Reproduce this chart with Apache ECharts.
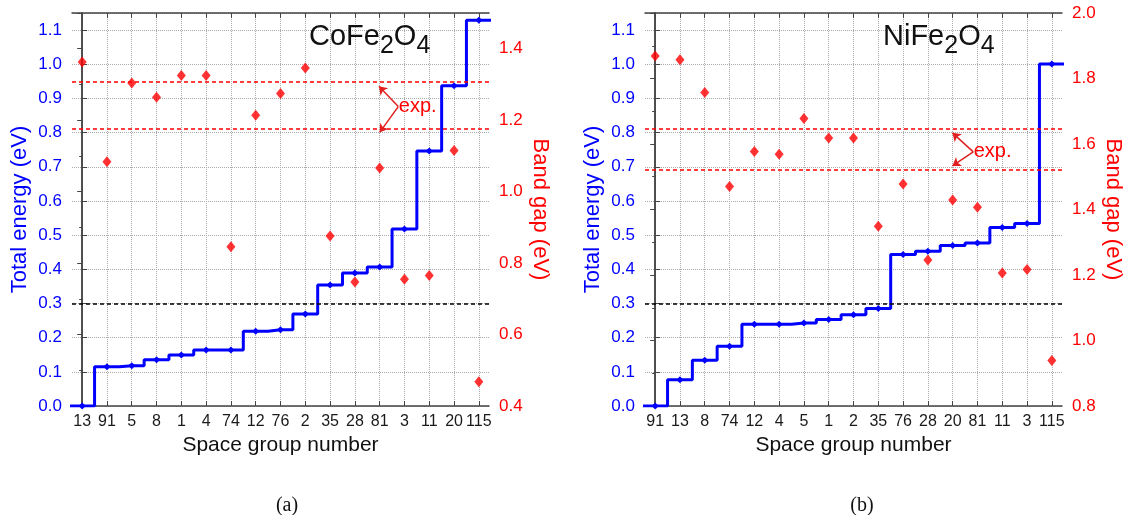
<!DOCTYPE html>
<html>
<head>
<meta charset="utf-8">
<script src="https://cdn.jsdelivr.net/npm/echarts@6/dist/echarts.min.js"></script>
<style>
  html, body { margin: 0; padding: 0; background: #fff; }
  #chart { width: 1129px; height: 515px; }
</style>
</head>
<body>
<div id="chart"></div>
<script>
// (a) CoFe2O4
const groupsCo = ['13', '91', '5', '8', '1', '4', '74', '12', '76', '2', '35', '28', '81', '3', '11', '20', '115'];
const energyCo = [0.0, 0.115, 0.118, 0.135, 0.149, 0.164, 0.164, 0.219, 0.223, 0.269, 0.354, 0.389, 0.407, 0.518, 0.746, 0.937, 1.129];
const gapCo = [1.363, 1.084, 1.304, 1.264, 1.325, 1.325, 0.846, 1.214, 1.275, 1.346, 0.876, 0.747, 1.066, 0.755, 0.765, 1.115, 0.468];
const expCo = [0.95, 0.805];

// (b) NiFe2O4
const groupsNi = ['91', '13', '8', '74', '12', '4', '5', '1', '2', '35', '76', '28', '20', '81', '11', '3', '115'];
const energyNi = [0.0, 0.077, 0.134, 0.175, 0.239, 0.239, 0.243, 0.253, 0.267, 0.285, 0.443, 0.453, 0.470, 0.477, 0.522, 0.534, 1.001];
const gapNi = [1.869, 1.857, 1.757, 1.470, 1.577, 1.569, 1.678, 1.618, 1.618, 1.349, 1.478, 1.246, 1.429, 1.407, 1.206, 1.217, 0.939];
const expNi = [0.805, 0.69];

const threshold = 0.3;

const blue = '#0000ff';
const red = '#ff0000';
const frame = '#444';
const font = '"Liberation Sans", Arial, sans-serif';

function panel(i, left, cats, energy, gap, exp, gapMin, gapMax, ann) {
    const idx = cats.map((c, j) => j);
    const last = energy.length - 1;
    const xCommon = {
        gridIndex: i, type: 'value', min: -0.41, max: cats.length - 1 + 0.41,
        axisLine: {show: true, onZero: false, lineStyle: {color: frame, width: 1.5}},
        axisTick: {show: true, inside: true, length: 5, customValues: idx, lineStyle: {color: frame}}
    };
    const xAxes = [
        Object.assign({}, xCommon, {
            position: 'bottom',
            axisLabel: {
                customValues: idx, formatter: v => cats[Math.round(v)],
                color: '#1a1a1a', fontSize: 16, fontFamily: font, margin: 8
            },
            splitLine: {show: true, lineStyle: {type: 'dotted', color: '#aaa'}},
            name: 'Space group number', nameLocation: 'middle', nameGap: 28,
            nameTextStyle: {fontSize: 21, color: '#111', fontFamily: font}
        }),
        Object.assign({}, xCommon, {
            position: 'top',
            axisLabel: {show: false},
            splitLine: {show: false}
        })
    ];
    const yAxes = [
        {
            gridIndex: i, type: 'value', position: 'left', min: 0, max: 1.15, interval: 0.1,
            axisLine: {show: true, lineStyle: {color: frame, width: 1.5}},
            axisTick: {show: true, inside: true, length: 5, lineStyle: {color: frame}},
            axisLabel: {color: blue, fontSize: 17, fontFamily: font, margin: 10,
                        showMaxLabel: false, formatter: v => v.toFixed(1)},
            splitLine: {show: true, lineStyle: {type: 'dotted', color: '#aaa'}},
            name: 'Total energy (eV)', nameLocation: 'middle', nameGap: 41,
            nameTextStyle: {color: blue, fontSize: 22, fontFamily: font}
        },
        {
            gridIndex: i, type: 'value', position: 'right', min: gapMin, max: gapMax, interval: 0.2,
            axisLine: {show: true, lineStyle: {color: frame, width: 1.5}},
            axisTick: {show: true, inside: true, length: 5, lineStyle: {color: frame}},
            minorTick: {show: true, splitNumber: 2, length: 3, lineStyle: {color: frame}},
            axisLabel: {color: red, fontSize: 17, fontFamily: font, margin: 10,
                        showMaxLabel: i === 1, formatter: v => v.toFixed(1)},
            splitLine: {show: false},
            name: 'Band gap (eV)', nameLocation: 'middle', nameGap: 40, nameRotate: -90,
            nameTextStyle: {color: red, fontSize: 22, fontFamily: font}
        }
    ];
    const stepData = [{value: [-0.5, energy[0]], symbol: 'none'}]
        .concat(energy.map((v, j) => [j, v]))
        .concat([{value: [last + 0.5, energy[last]], symbol: 'none'}]);
    const series = [
        {
            type: 'line', xAxisIndex: 2 * i, yAxisIndex: 2 * i, step: 'middle',
            data: stepData, symbol: 'diamond', symbolSize: 7, clip: true, z: 4,
            lineStyle: {color: blue, width: 3}, itemStyle: {color: blue},
            markLine: {
                silent: true, symbol: 'none', label: {show: false},
                data: [
                    {yAxis: exp[0], lineStyle: {color: red, type: [4, 3], width: 1.5}},
                    {yAxis: exp[1], lineStyle: {color: red, type: [4, 3], width: 1.5}},
                    {yAxis: threshold, lineStyle: {color: '#000', type: [4, 3], width: 1.5}}
                ]
            }
        },
        {
            type: 'scatter', xAxisIndex: 2 * i, yAxisIndex: 2 * i + 1,
            data: gap.map((v, j) => [j, v]), symbol: 'diamond', symbolSize: [9, 11], z: 3,
            itemStyle: {color: red},
            markLine: {
                silent: true, symbol: ['none', 'arrow'], symbolSize: 8, label: {show: false},
                lineStyle: {color: '#e02020', width: 1.5, type: 'solid'},
                data: [
                    [{coord: ann.v}, {coord: ann.up}],
                    [{coord: ann.v}, {coord: ann.down}]
                ]
            },
            markPoint: {
                silent: true, symbol: 'circle', symbolSize: 1, itemStyle: {color: 'rgba(0,0,0,0)'},
                label: {show: true, position: 'right', distance: 0, formatter: 'exp.',
                        color: red, fontSize: 20, fontFamily: font},
                data: [{coord: ann.v}]
            }
        }
    ];
    return {grid: {left: left, top: 13, width: 417, height: 393}, xAxes, yAxes, series};
}

const pa = panel(0, 72, groupsCo, energyCo, gapCo, expCo, 0.4, 1.5,
    {v: [12.75, 1.238], up: [11.97, 1.295], down: [12.0, 1.166]});
const pb = panel(1, 645, groupsNi, energyNi, gapNi, expNi, 0.8, 2.0,
    {v: [12.83, 1.576], up: [11.99, 1.634], down: [11.99, 1.533]});

const formulaRich = {
    m: {fontSize: 29, fontWeight: 'normal', color: '#111', fontFamily: font, lineHeight: 37, verticalAlign: 'top'},
    s: {fontSize: 25, fontWeight: 'normal', color: '#111', fontFamily: font, lineHeight: 37, verticalAlign: 'bottom'}
};

const option = {
    backgroundColor: '#fff',
    animation: false,
    title: [
        {text: '{m|CoFe}{s|2}{m|O}{s|4}', left: 304, top: 17, textStyle: {fontWeight: 'normal', rich: formulaRich}},
        {text: '{m|NiFe}{s|2}{m|O}{s|4}', left: 878, top: 17, textStyle: {fontWeight: 'normal', rich: formulaRich}},
        {text: '(a)', left: 282, top: 491, textAlign: 'center',
         textStyle: {fontFamily: '"Liberation Serif", serif', fontWeight: 'normal', fontSize: 20, color: '#111'}},
        {text: '(b)', left: 857, top: 491, textAlign: 'center',
         textStyle: {fontFamily: '"Liberation Serif", serif', fontWeight: 'normal', fontSize: 20, color: '#111'}}
    ],
    grid: [pa.grid, pb.grid],
    xAxis: pa.xAxes.concat(pb.xAxes),
    yAxis: pa.yAxes.concat(pb.yAxes),
    series: pa.series.concat(pb.series)
};

const chart = echarts.init(document.getElementById('chart'), null, {renderer: 'canvas'});
chart.setOption(option);
</script>
</body>
</html>
